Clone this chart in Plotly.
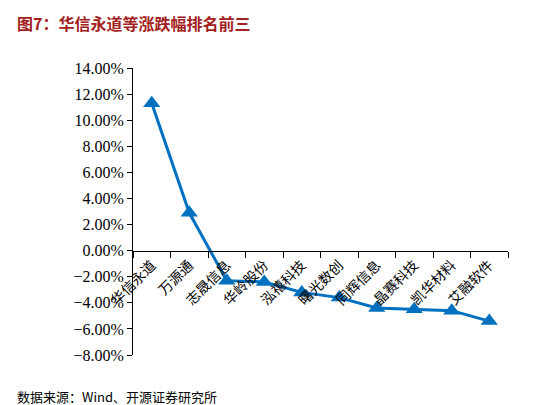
import plotly.graph_objects as go

names = ["华信永道", "万源通", "志晟信息", "华岭股份", "泓禧科技",
         "曙光数创", "同辉信息", "晶赛科技", "凯华材料", "艾融软件"]
changes = [11.3, 2.9, -2.3, -2.4, -3.2, -3.6, -4.4, -4.5, -4.6, -5.4]

fig = go.Figure(go.Scatter(
    x=names, y=changes, mode="lines+markers",
    line=dict(color="#0070C0", width=3),
    marker=dict(symbol="triangle-up", size=15, color="#0070C0"),
))

fig.update_layout(
    width=546, height=405,
    margin=dict(l=125, r=46, t=60, b=58),
    plot_bgcolor="white", paper_bgcolor="white",
    showlegend=False,
    font=dict(family="Liberation Serif", size=16, color="black"),
    xaxis=dict(
        type="category", anchor="free", position=8 / 22,
        showline=True, linecolor="black", linewidth=1,
        ticks="outside", ticklen=6, tickcolor="black",
        tickson="boundaries", tickangle=-45, showgrid=False,
        tickfont=dict(family="Noto Sans CJK SC", size=14),
        range=[-0.5, 9.5],
    ),
    yaxis=dict(
        range=[-8, 14], dtick=2, ticksuffix=".00%",
        showline=True, linecolor="black", linewidth=1,
        ticks="outside", ticklen=5, tickcolor="black",
        showgrid=False, zeroline=False,
        tickfont=dict(family="Liberation Serif", size=16),
    ),
)

fig.add_annotation(text="<b>图7：华信永道等涨跌幅排名前三</b>", xref="paper", yref="paper",
                   x=-118 / 375, y=1 + 45 / 287, xanchor="left", yanchor="middle", showarrow=False,
                   font=dict(family="Noto Sans CJK SC", size=16, color="#A32020"))
fig.add_annotation(text="数据来源：Wind、开源证券研究所", xref="paper", yref="paper",
                   x=-118 / 375, y=-41 / 287, xanchor="left", yanchor="middle", showarrow=False,
                   font=dict(family="Noto Sans CJK SC", size=13, color="black"))

fig.write_html("out.html")
